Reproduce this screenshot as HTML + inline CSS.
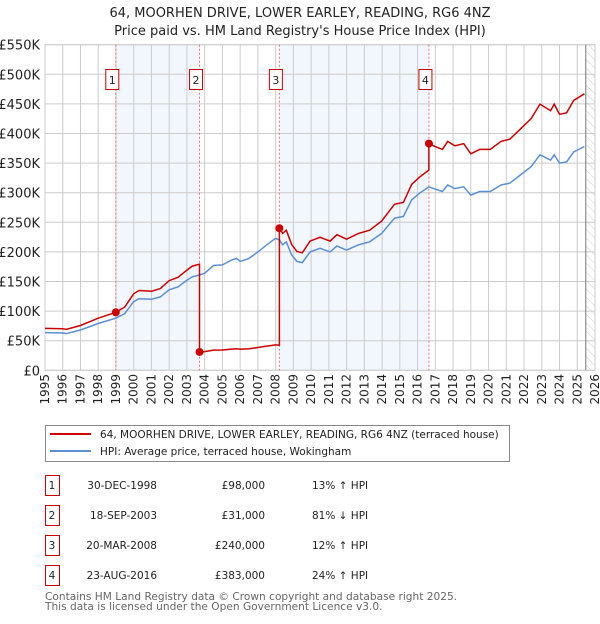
<!DOCTYPE html>
<html><head><meta charset="utf-8"><style>
body{margin:0;background:#fff;font-family:"DejaVu Sans","Liberation Sans",sans-serif;}
svg text{font-family:"DejaVu Sans","Liberation Sans",sans-serif;}
</style></head><body>
<svg id="c" width="600" height="620" xmlns="http://www.w3.org/2000/svg">
<rect width="600" height="620" fill="#fff"/>
<text x="300" y="17" text-anchor="middle" font-size="13" fill="#222">64, MOORHEN DRIVE, LOWER EARLEY, READING, RG6 4NZ</text>
<text x="300" y="35" text-anchor="middle" font-size="13" fill="#222">Price paid vs. HM Land Registry's House Price Index (HPI)</text>
<g id="plot"></g>
<g>
<rect x="45.5" y="425.5" width="464" height="36" fill="#fff" stroke="#888"/>
<line x1="50" y1="434" x2="91" y2="434" stroke="#cc0000" stroke-width="2"/>
<text x="100" y="438" font-size="10.5" fill="#222">64, MOORHEN DRIVE, LOWER EARLEY, READING, RG6 4NZ (terraced house)</text>
<line x1="50" y1="451" x2="91" y2="451" stroke="#5b8fd4" stroke-width="2"/>
<text x="100" y="455" font-size="10.5" fill="#222">HPI: Average price, terraced house, Wokingham</text>
</g>
<g id="table" fill="#222"></g>
<text x="45" y="600" font-size="10.6" fill="#666">Contains HM Land Registry data © Crown copyright and database right 2025.</text>
<text x="45" y="610" font-size="10.6" fill="#666">This data is licensed under the Open Government Licence v3.0.</text>
</svg>
<script>
const hpiYears=[1995,1996,1996.2,1997,1998,1998.99,1999.5,2000,2000.3,2001,2001.5,2002,2002.5,2003,2003.3,2003.71,2004,2004.5,2005,2005.5,2005.8,2006,2006.5,2007,2007.5,2008,2008.21,2008.4,2008.6,2008.9,2009.2,2009.5,2009.94,2010.5,2011.07,2011.45,2012,2012.67,2013.3,2013.97,2014.7,2015.2,2015.67,2016.1,2016.64,2016.9,2017.4,2017.7,2018.1,2018.6,2019,2019.5,2020.1,2020.7,2021.2,2021.8,2022.4,2022.9,2023.5,2023.7,2024,2024.4,2024.8,2025.4];
const hpiValues=[63.6,63,62,68,79,88,96,116,121,120,124,136,141,152,158,161,164,177,178,186,189,184,189,200,212,223,220,212,217,195,184,182,200,206,200,210,203,212,217,231,257,260,288,299,310,307,302,313,307,310,296,302,302,313,316,330,344,364,355,364,350,352,369,378];
const saleYears=[1998.99,2003.71,2008.21,2016.64];
const salePrices=[98,31,240,383];
const saleLabels=["1","2","3","4"];
const saleDates=["30-DEC-1998","18-SEP-2003","20-MAR-2008","23-AUG-2016"];
const salePriceText=["£98,000","£31,000","£240,000","£383,000"];
const saleHpiText=["13% ↑ HPI","81% ↓ HPI","12% ↑ HPI","24% ↑ HPI"];
const yTicks=[0,50,100,150,200,250,300,350,400,450,500,550];
const yTickLabels=["£0","£50K","£100K","£150K","£200K","£250K","£300K","£350K","£400K","£450K","£500K","£550K"];
const xTicks=[1995,1996,1997,1998,1999,2000,2001,2002,2003,2004,2005,2006,2007,2008,2009,2010,2011,2012,2013,2014,2015,2016,2017,2018,2019,2020,2021,2022,2023,2024,2025,2026];

const NS="http://www.w3.org/2000/svg";
const L=45,R=595,T=44.7,B=370.3,X0=1995,X1=2026,YMAX=550,dataEnd=2025.48;
const sx=y=>L+(y-X0)/(X1-X0)*(R-L);
const sy=v=>B-v/YMAX*(B-T);
const plot=document.getElementById('plot');
function mk(tag,attrs,parent){const e=document.createElementNS(NS,tag);for(const k in attrs)e.setAttribute(k,attrs[k]);(parent||plot).appendChild(e);return e;}
function hpiAt(t){for(let i=0;i<hpiYears.length-1;i++){if(t<=hpiYears[i+1]){const f=(t-hpiYears[i])/(hpiYears[i+1]-hpiYears[i]);return hpiValues[i]+f*(hpiValues[i+1]-hpiValues[i]);}}return hpiValues[hpiValues.length-1];}

for(let i=0;i<saleYears.length;i+=2){
  const r=mk('rect',{x:sx(saleYears[i]),y:T,width:sx(saleYears[i+1])-sx(saleYears[i]),height:B-T,fill:'#f2f6fd'});
  
  
}
const defs=mk('defs',{});
const pat=mk('pattern',{id:'hatch',width:6,height:6,patternUnits:'userSpaceOnUse',patternTransform:'rotate(-45)'},defs);
mk('line',{x1:0,y1:0,x2:0,y2:6,stroke:'#ccc','stroke-width':1},pat);
const hr=mk('rect',{x:sx(dataEnd),y:T,width:R-sx(dataEnd),height:B-T,fill:'url(#hatch)'});


xTicks.forEach((t,i)=>{
  const g=mk('line',{x1:sx(t),y1:T,x2:sx(t),y2:B,stroke:'#ccc','stroke-width':1});
  
  
  const x=sx(t)+4;
  const tx=mk('text',{x:x,y:374,'font-size':12,fill:'#222','text-anchor':'end',transform:`rotate(-90 ${x} 374)`});
  tx.textContent=t;
  
  
});
yTicks.forEach((v,i)=>{
  const g=mk('line',{x1:L,y1:sy(v),x2:R,y2:sy(v),stroke:'#ccc','stroke-width':1});
  
  
  const tx=mk('text',{x:40,y:sy(v)+5,'font-size':13,fill:'#222','text-anchor':'end'});
  tx.textContent=yTickLabels[i];
  
  
});
const fr=mk('rect',{x:L,y:T,width:R-L,height:B-T,fill:'none',stroke:'#ccc'});


const el=mk('line',{x1:sx(dataEnd),y1:T,x2:sx(dataEnd),y2:B,stroke:'#777','stroke-width':1});


saleYears.forEach((t,i)=>{
  const v=mk('line',{x1:sx(t),y1:T,x2:sx(t),y2:B,stroke:'#f07070','stroke-width':1,'stroke-dasharray':'2,2'});
  
  
});
let hp='';
hpiYears.forEach((t,i)=>{hp+=(i?'L':'M')+sx(t).toFixed(1)+','+sy(hpiValues[i]).toFixed(1);});
const hl=mk('path',{d:hp,fill:'none',stroke:'#5b8fd4','stroke-width':1.5});


const ts=new Set(hpiYears);saleYears.forEach(t=>ts.add(t));
const times=[...ts].sort((a,b)=>a-b);
let rp='';let first=true;
times.forEach(t=>{
  let k=-1;for(let j=0;j<saleYears.length;j++)if(saleYears[j]<=t+1e-9)k=j;
  const idx=k<0?0:k;
  if(k>0&&Math.abs(saleYears[k]-t)<1e-9){
    const prev=k-1;const vPrev=hpiAt(t)*salePrices[prev]/hpiAt(saleYears[prev]);
    rp+='L'+sx(t).toFixed(1)+','+sy(vPrev).toFixed(1);
  }
  const v=hpiAt(t)*salePrices[idx]/hpiAt(saleYears[idx]);
  rp+=(first?'M':'L')+sx(t).toFixed(1)+','+sy(v).toFixed(1);first=false;
});
const rl=mk('path',{d:rp,fill:'none',stroke:'#cc0000','stroke-width':1.5});


saleYears.forEach((t,i)=>{
  const c=mk('circle',{cx:sx(t),cy:sy(salePrices[i]),r:4,fill:'#cc0000'});
  
  
  const bx=sx(t)-10;
  const b=mk('rect',{x:bx,y:69.5,width:13,height:20,fill:'#fff',stroke:'#cc0000'});
  
  
  const tx=mk('text',{x:bx+6.5,y:84,'font-size':11,fill:'#222','text-anchor':'middle'});
  tx.textContent=saleLabels[i];
  
  
});
const tb=document.getElementById('table');
saleLabels.forEach((s,i)=>{
  const y=475+i*30;
  const b=mk('rect',{x:45.5,y:y+0.5,width:14,height:20,fill:'#fff',stroke:'#cc0000'},tb);
  
  
  const cells=[[52,s,'middle'],[157,saleDates[i],'end'],[265,salePriceText[i],'end'],[312,saleHpiText[i],'start']];
  cells.forEach(c=>{
    const tx=mk('text',{x:c[0],y:y+14,'font-size':10.5,fill:'#222','text-anchor':c[2]},tb);
    tx.textContent=c[1];
    
    
  });
});
</script>
</body></html>
